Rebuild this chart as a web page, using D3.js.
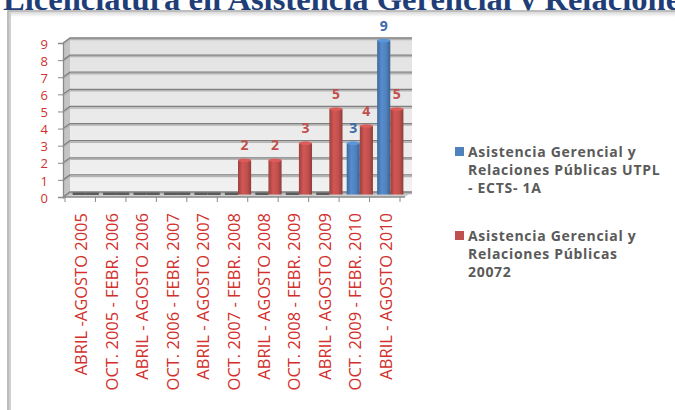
<!DOCTYPE html>
<html lang="es">
<head>
    <meta charset="UTF-8">
    <title>Licenciatura en Asistencia Gerencial y Relaciones Públicas</title>
    <script src="https://d3js.org/d3.v7.min.js"></script>
    <style>
        html, body { margin: 0; padding: 0; background: #fff; overflow: hidden; }
        svg { display: block; }
    </style>
</head>
<body>
<div id="chart"></div>
<script>
    // chart data
    const categories = [
        'ABRIL -AGOSTO 2005', 'OCT. 2005 - FEBR. 2006', 'ABRIL - AGOSTO 2006',
        'OCT. 2006 - FEBR. 2007', 'ABRIL - AGOSTO 2007', 'OCT. 2007 - FEBR. 2008',
        'ABRIL - AGOSTO 2008', 'OCT. 2008 - FEBR. 2009', 'ABRIL - AGOSTO 2009',
        'OCT. 2009 - FEBR. 2010', 'ABRIL - AGOSTO 2010'
    ];
    const seriesNames = [
        ['Asistencia Gerencial y', 'Relaciones Públicas UTPL', '- ECTS- 1A'],
        ['Asistencia Gerencial y', 'Relaciones Públicas', '20072']
    ];
    const utplValues = [0, 0, 0, 0, 0, 0, 0, 0, 0, 3, 9];
    const v20072Values = [0, 0, 0, 0, 0, 2, 2, 3, 5, 4, 5];
    const yTicks = [0, 1, 2, 3, 4, 5, 6, 7, 8, 9];

    const W = 675, H = 410;
    const colors = ['#4f81bd', '#c0504d'];
    const labelColors = ['#3d6aa8', '#c0504d'];
    const axisRed = '#d2302c';
    const depth = {dx: 7, dy: -5};

    const svg = d3.select('#chart').append('svg')
        .attr('width', W).attr('height', H);
    const defs = svg.append('defs');

    // title, cut by the top of the page
    svg.append('text')
        .attr('x', 3).attr('y', 10)
        .attr('font-family', '"Liberation Serif", serif')
        .attr('font-weight', 'bold')
        .attr('font-size', 32.6)
        .attr('fill', '#1f3e78')
        .text('Licenciatura en Asistencia Gerencial y Relaciones Públicas');

    // chart frame
    const shadow = defs.append('linearGradient').attr('id', 'topShadow')
        .attr('x1', 0).attr('y1', 0).attr('x2', 0).attr('y2', 1);
    shadow.append('stop').attr('offset', 0).attr('stop-color', '#d8d8d8');
    shadow.append('stop').attr('offset', 1).attr('stop-color', '#ffffff');
    svg.append('rect').attr('x', 8).attr('y', 11).attr('width', W).attr('height', H)
        .attr('fill', '#fff').attr('stroke', '#a8a8a8').attr('stroke-width', 1.5);
    svg.append('rect').attr('x', 9).attr('y', 12).attr('width', W).attr('height', 5)
        .attr('fill', 'url(#topShadow)');
    svg.append('rect').attr('x', 9).attr('y', 12).attr('width', 2).attr('height', H)
        .attr('fill', '#d0d0d0');

    // scales (front plane)
    const x = d3.scaleBand().domain(categories).range([65, 400]);
    const y = d3.scaleLinear().domain([0, 9]).range([197, 43]);
    const inner = d3.scaleBand().domain([0, 1]).range([0, x.bandwidth()]).paddingInner(0).paddingOuter(0.16);
    const x0 = 63, x1 = 405;

    // walls
    const wallGrad = defs.append('linearGradient').attr('id', 'wall')
        .attr('x1', 0).attr('y1', 0).attr('x2', 0).attr('y2', 1);
    wallGrad.append('stop').attr('offset', 0).attr('stop-color', '#e2e2e2');
    wallGrad.append('stop').attr('offset', 1).attr('stop-color', '#f1f1f1');

    const yTop = y(9) + depth.dy, yBot = y(0) + depth.dy;
    svg.append('rect')
        .attr('x', x0 + depth.dx).attr('y', yTop)
        .attr('width', x1 - x0).attr('height', yBot - yTop)
        .attr('fill', 'url(#wall)');
    svg.append('polygon')
        .attr('points', [[x0, y(9)], [x0 + depth.dx, yTop], [x0 + depth.dx, yBot], [x0, y(0)]].join(' '))
        .attr('fill', '#c4c4c4');
    svg.append('polygon')
        .attr('points', [[x0, y(0)], [x1, y(0)], [x1 + depth.dx, yBot], [x0 + depth.dx, yBot]].join(' '))
        .attr('fill', '#cfcfcf');

    // gridlines on the back and side walls
    const grid = svg.append('g');
    yTicks.forEach(t => {
        const yb = y(t) + depth.dy;
        grid.append('polyline')
            .attr('points', [[x0, y(t) + 1.5], [x0 + depth.dx, yb + 1.5], [x1 + depth.dx, yb + 1.5]].join(' '))
            .attr('fill', 'none').attr('stroke', '#b5b5b5').attr('stroke-width', 1.5);
        grid.append('polyline')
            .attr('points', [[x0, y(t)], [x0 + depth.dx, yb], [x1 + depth.dx, yb]].join(' '))
            .attr('fill', 'none').attr('stroke', '#7f7f7f').attr('stroke-width', 1.3);
    });

    // axes
    const yAxis = svg.append('g').attr('transform', `translate(${x0},0)`)
        .call(d3.axisLeft(y).tickValues(yTicks).tickSize(5).tickPadding(10).tickFormat(d3.format('d')));
    yAxis.select('.domain').attr('stroke', '#8a8a8a').attr('stroke-width', 1.3);
    yAxis.selectAll('.tick line').attr('stroke', '#8a8a8a');
    yAxis.selectAll('.tick text')
        .attr('fill', axisRed)
        .attr('font-family', '"Open Sans", sans-serif')
        .attr('font-size', 13)
        .attr('dy', '0.4em');

    const xAxis = svg.append('g').attr('transform', `translate(0,${y(0)})`);
    xAxis.append('line').attr('x1', x0).attr('x2', x1).attr('stroke', '#8a8a8a').attr('stroke-width', 1.3);
    xAxis.selectAll('line.tk')
        .data(categories.concat(['end']))
        .join('line').attr('class', 'tk')
        .attr('x1', (d, i) => i < categories.length ? x(d) : x.range()[1])
        .attr('x2', (d, i) => i < categories.length ? x(d) : x.range()[1])
        .attr('y1', 0).attr('y2', 5)
        .attr('stroke', '#8a8a8a');
    xAxis.selectAll('text')
        .data(categories)
        .join('text')
        .attr('transform', d => `translate(${x(d) + x.bandwidth() / 2 + 7},16) rotate(-90)`)
        .attr('text-anchor', 'end')
        .attr('font-family', '"Open Sans", sans-serif')
        .attr('font-size', 16.5)
        .attr('fill', axisRed)
        .text(d => d);

    // bars
    const series = [utplValues, v20072Values];
    series.forEach((vals, s) => {
        const g = defs.append('linearGradient').attr('id', 'bar' + s)
            .attr('x1', 0).attr('y1', 0).attr('x2', 1).attr('y2', 0);
        const c = d3.color(colors[s]);
        g.append('stop').attr('offset', 0).attr('stop-color', c.darker(0.6));
        g.append('stop').attr('offset', 0.35).attr('stop-color', c.brighter(0.25));
        g.append('stop').attr('offset', 0.7).attr('stop-color', c);
        g.append('stop').attr('offset', 1).attr('stop-color', c.darker(0.8));
    });

    const bd = {dx: 3.5, dy: -2.5};
    const bars = svg.append('g');
    categories.forEach((cat, i) => {
        series.forEach((vals, s) => {
            const v = vals[i];
            const bx = x(cat) + inner(s) + 2 + bd.dx;
            const bw = inner.bandwidth();
            const top = y(v) + bd.dy, base = y(0) + bd.dy;
            if (v === 0) {
                bars.append('rect')
                    .attr('x', bx).attr('y', base - 2)
                    .attr('width', bw).attr('height', 2.5)
                    .attr('fill', '#5a5a5a');
                return;
            }
            bars.append('rect')
                .attr('x', bx).attr('y', top)
                .attr('width', bw).attr('height', base - top)
                .attr('fill', `url(#bar${s})`);
            bars.append('ellipse')
                .attr('cx', bx + bw / 2).attr('cy', top)
                .attr('rx', bw / 2).attr('ry', 1.8)
                .attr('fill', d3.color(colors[s]).brighter(0.4));
            bars.append('text')
                .attr('x', bx + bw / 2).attr('y', top - 10)
                .attr('text-anchor', 'middle')
                .attr('font-family', '"Open Sans", sans-serif')
                .attr('font-weight', 'bold')
                .attr('font-size', 14)
                .attr('fill', labelColors[s])
                .text(v);
        });
    });

    // legend
    const legend = svg.append('g').attr('transform', 'translate(455,0)');
    const legendTops = [157, 241];
    seriesNames.forEach((lines, s) => {
        legend.append('rect')
            .attr('x', 0).attr('y', legendTops[s] - 10)
            .attr('width', 9).attr('height', 9)
            .attr('fill', colors[s]);
        lines.forEach((ln, k) => {
            legend.append('text')
                .attr('x', 13).attr('y', legendTops[s] + k * 18)
                .attr('font-family', '"Open Sans", sans-serif')
                .attr('font-weight', 'bold')
                .attr('font-size', 14)
                .attr('letter-spacing', 0.7)
                .attr('fill', '#5a5a5a')
                .text(ln);
        });
    });
</script>
</body>
</html>
